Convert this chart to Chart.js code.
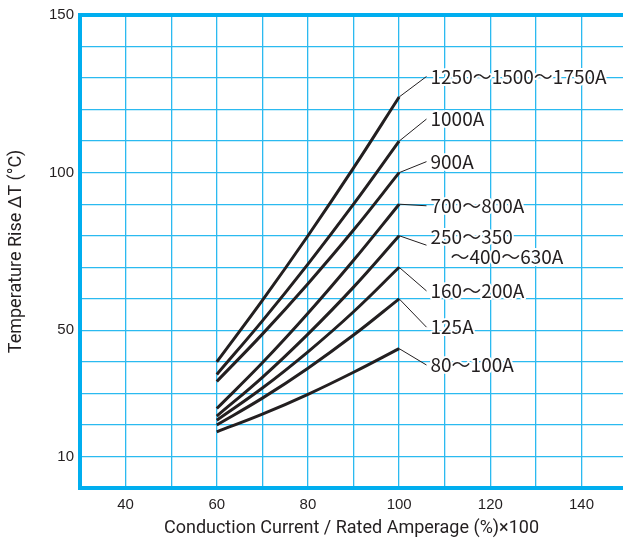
<!DOCTYPE html>
<html>
<head>
<meta charset="utf-8">
<script src="https://cdn.jsdelivr.net/npm/chart.js@4"></script>
<style>
  html,body{margin:0;padding:0;background:#fff;}
  #wrap{width:623px;height:544px;}
</style>
</head>
<body>
<div id="wrap"><canvas id="c" width="623" height="544"></canvas></div>
<script>
// ---- data ----
const xValues = [60, 70, 80, 90, 100];
const s1250 = [40.0, 59.5, 80.0, 101.5, 124.0];
const s1000 = [36.0, 53.0, 71.0, 90.0, 110.0];
const s900  = [33.8, 48.8, 64.8, 81.8, 100.0];
const s700  = [25.2, 39.7, 55.4, 72.2, 90.0];
const s250  = [22.8, 35.1, 48.8, 63.7, 80.0];
const s160  = [21.5, 31.7, 43.2, 55.9, 70.0];
const s125  = [20.0, 28.5, 38.0, 48.5, 60.0];
const s80   = [17.8, 23.4, 29.7, 36.7, 44.2];
const seriesValues = [s1250, s1000, s900, s700, s250, s160, s125, s80];
const seriesLabels = [
  ["1250～1500～1750A"],
  ["1000A"],
  ["900A"],
  ["700～800A"],
  ["250～350", "～400～630A"],
  ["160～200A"],
  ["125A"],
  ["80～100A"]
];
// label anchor (data units) where each leader line ends
const labelAnchorY = [130.5, 117.0, 103.5, 89.5, 77.0, 62.5, 51.0, 39.0];
const labelAnchorX = 106.0;
const xTickLabels = [40, 60, 80, 100, 120, 140];
const yTickLabels = [10, 50, 100, 150];

const BLUE = '#00AEEF';
const INK = '#231f20';

const datasets = seriesValues.map((vals, i) => ({
  label: seriesLabels[i].join(' '),
  data: xValues.map((x, j) => ({x: x, y: vals[j]})),
  borderColor: INK,
  borderWidth: 3,
  pointRadius: 0,
  fill: false,
  tension: 0.4
}));

const framePlugin = {
  id: 'frame',
  beforeDatasetsDraw(chart) {
    const {ctx, chartArea: a} = chart;
    ctx.save();
    ctx.strokeStyle = BLUE;
    ctx.lineWidth = 4;
    ctx.beginPath();
    ctx.moveTo(chart.width, a.top);
    ctx.lineTo(a.left, a.top);
    ctx.lineTo(a.left, a.bottom);
    ctx.lineTo(chart.width, a.bottom);
    ctx.stroke();
    ctx.restore();
  },
  afterDatasetsDraw(chart) {
    const {ctx, scales: {x, y}} = chart;
    ctx.save();
    ctx.font = '19px "Noto Sans CJK JP"';
    ctx.textBaseline = 'middle';
    ctx.textAlign = 'left';
    seriesValues.forEach((vals, i) => {
      const x0 = x.getPixelForValue(xValues[xValues.length - 1]);
      const y0 = y.getPixelForValue(vals[vals.length - 1]);
      const x1 = x.getPixelForValue(labelAnchorX);
      const y1 = y.getPixelForValue(labelAnchorY[i]);
      ctx.strokeStyle = INK;
      ctx.lineWidth = 1;
      ctx.beginPath();
      ctx.moveTo(x0, y0);
      ctx.lineTo(x1, y1);
      ctx.stroke();
      const lines = seriesLabels[i];
      let ty = y1;
      if (lines.length > 1) ty = y1 - 8;
      lines.forEach((t, k) => {
        const tx = x1 + 4 + (k > 0 ? 20 : 0);
        const yy = ty + k * 20;
        ctx.lineWidth = 4;
        ctx.strokeStyle = '#fff';
        ctx.lineJoin = 'round';
        ctx.strokeText(t, tx, yy);
        ctx.fillStyle = INK;
        ctx.fillText(t, tx, yy);
      });
    });
    ctx.restore();
  }
};

new Chart(document.getElementById('c'), {
  type: 'line',
  data: { datasets },
  options: {
    responsive: false,
    animation: false,
    events: [],
    layout: { padding: { top: 15, right: 0, left: 0, bottom: 0 } },
    plugins: { legend: { display: false }, tooltip: { enabled: false } },
    scales: {
      x: {
        type: 'linear',
        min: 30,
        max: 149.1,
        afterBuildTicks(scale) {
          const t = [];
          for (let v = 30; v <= 140; v += 10) t.push({value: v});
          scale.ticks = t;
        },
        afterFit(scale) { scale.height = 56; },
        border: { display: false },
        grid: { color: '#2BBAF0', lineWidth: 1.3, drawTicks: false },
        ticks: {
          padding: 8,
          color: INK,
          font: { family: '"Liberation Sans", Arial, sans-serif', size: 15 },
          callback: (v) => xTickLabels.includes(v) ? String(v) : ''
        },
        title: {
          display: true,
          text: 'Conduction Current / Rated Amperage (%)×100',
          color: INK,
          font: { family: 'Roboto, sans-serif', size: 18 },
          padding: { top: 0, bottom: 5 }
        }
      },
      y: {
        type: 'linear',
        min: 0,
        max: 150,
        afterBuildTicks(scale) {
          const t = [];
          for (let v = 0; v <= 150; v += 10) t.push({value: v});
          scale.ticks = t;
        },
        afterFit(scale) { scale.width = 80; },
        border: { display: false },
        grid: { color: '#2BBAF0', lineWidth: 1.3, drawTicks: false },
        ticks: {
          padding: 6,
          color: INK,
          font: { family: '"Liberation Sans", Arial, sans-serif', size: 15 },
          callback: (v) => yTickLabels.includes(v) ? String(v) : ''
        },
        title: {
          display: true,
          text: 'Temperature Rise ΔT (°C)',
          color: INK,
          font: { family: 'Roboto, sans-serif', size: 18 },
          padding: { top: 6, bottom: 0 }
        }
      }
    }
  },
  plugins: [framePlugin]
});
</script>
</body>
</html>
